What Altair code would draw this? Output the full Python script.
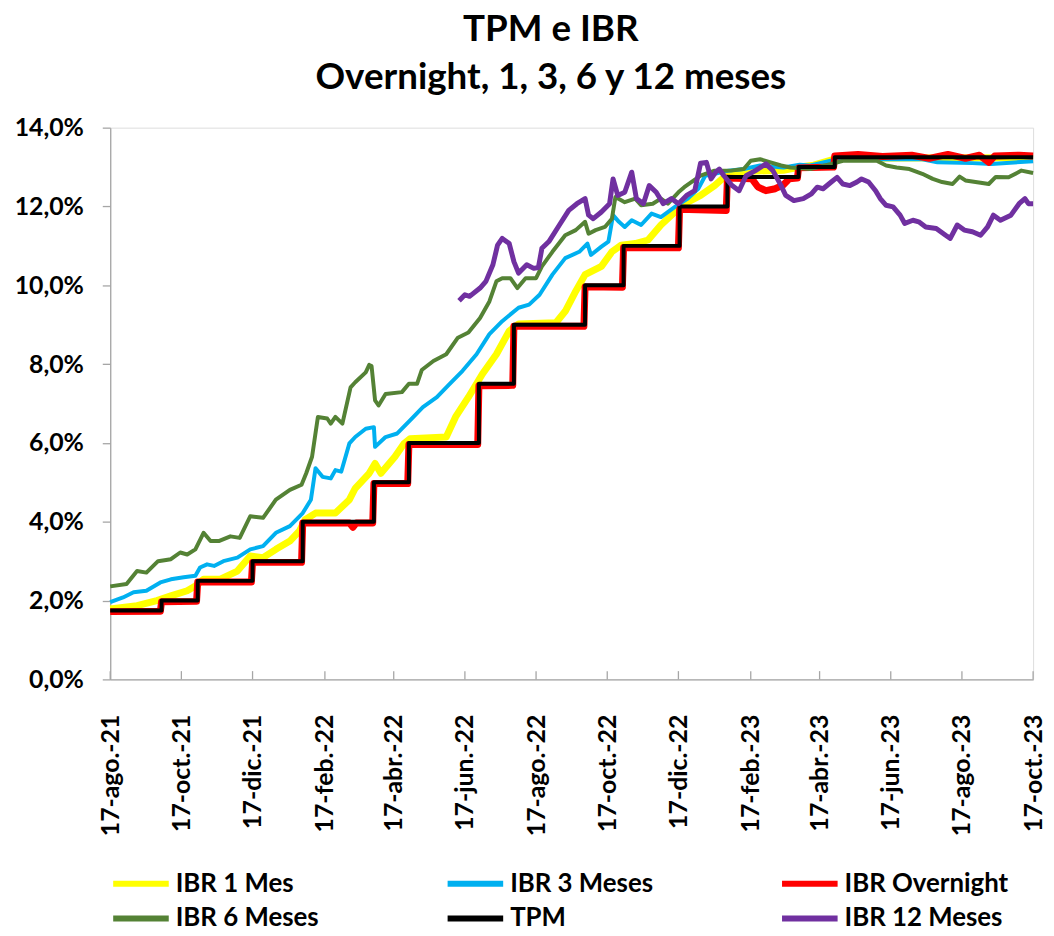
import altair as alt
import pandas as pd

# ---------------- data ----------------
series_names = ["IBR 1 Mes", "IBR 3 Meses", "IBR Overnight", "IBR 6 Meses", "TPM", "IBR 12 Meses"]
series_colors = ["#FFFF00", "#00B0F0", "#FF0000", "#548235", "#000000", "#7030A0"]
series_widths = [7, 4, 7, 4, 4, 5]

ibr_1m = [
    ["2021-08-17", 1.79], ["2021-09-09", 1.87], ["2021-09-26", 2.00], ["2021-10-08", 2.12],
    ["2021-10-22", 2.25], ["2021-10-29", 2.37], ["2021-11-05", 2.54], ["2021-11-19", 2.54],
    ["2021-12-04", 2.75], ["2021-12-15", 3.13], ["2021-12-26", 3.09], ["2022-01-06", 3.30],
    ["2022-01-18", 3.51], ["2022-01-26", 3.76], ["2022-01-31", 4.05], ["2022-02-09", 4.22],
    ["2022-02-26", 4.22], ["2022-03-10", 4.56], ["2022-03-15", 4.85], ["2022-03-27", 5.23],
    ["2022-04-01", 5.48], ["2022-04-06", 5.23], ["2022-04-18", 5.65], ["2022-04-26", 5.99],
    ["2022-05-01", 6.11], ["2022-06-01", 6.15], ["2022-06-09", 6.66], ["2022-06-20", 7.16],
    ["2022-07-02", 7.75], ["2022-07-14", 8.25], ["2022-07-25", 8.84], ["2022-08-02", 9.02],
    ["2022-09-03", 9.05], ["2022-09-11", 9.34], ["2022-09-20", 9.85], ["2022-09-28", 10.27],
    ["2022-10-12", 10.48], ["2022-10-21", 10.85], ["2022-10-29", 11.02], ["2022-11-10", 11.06],
    ["2022-11-21", 11.15], ["2022-12-02", 11.53], ["2022-12-14", 11.86], ["2022-12-25", 12.11],
    ["2023-01-05", 12.28], ["2023-01-17", 12.53], ["2023-01-25", 12.74], ["2023-02-03", 12.88],
    ["2023-03-17", 12.92], ["2023-03-31", 13.00], ["2023-04-12", 13.05], ["2023-05-02", 13.22],
    ["2023-07-01", 13.23], ["2023-10-17", 13.24],
]

ibr_3m = [
    ["2021-08-17", 1.96], ["2021-08-28", 2.08], ["2021-09-06", 2.21], ["2021-09-17", 2.25],
    ["2021-09-29", 2.46], ["2021-10-08", 2.54], ["2021-10-19", 2.59], ["2021-10-29", 2.63],
    ["2021-11-02", 2.84], ["2021-11-08", 2.92], ["2021-11-14", 2.88], ["2021-11-22", 3.00],
    ["2021-12-04", 3.09], ["2021-12-15", 3.30], ["2021-12-26", 3.38], ["2022-01-06", 3.72],
    ["2022-01-18", 3.89], ["2022-01-29", 4.22], ["2022-02-05", 4.56], ["2022-02-09", 5.36],
    ["2022-02-15", 5.14], ["2022-02-22", 5.10], ["2022-02-26", 5.31], ["2022-03-03", 5.27],
    ["2022-03-10", 5.99], ["2022-03-15", 6.15], ["2022-03-24", 6.36], ["2022-03-31", 6.40],
    ["2022-04-01", 5.90], ["2022-04-10", 6.15], ["2022-04-20", 6.24], ["2022-05-01", 6.57],
    ["2022-05-12", 6.91], ["2022-05-24", 7.16], ["2022-06-04", 7.50], ["2022-06-15", 7.83],
    ["2022-06-27", 8.25], ["2022-07-08", 8.76], ["2022-07-19", 9.09], ["2022-08-02", 9.43],
    ["2022-08-11", 9.51], ["2022-08-20", 9.76], ["2022-08-31", 10.27], ["2022-09-11", 10.69],
    ["2022-09-23", 10.85], ["2022-09-30", 11.06], ["2022-10-03", 10.77], ["2022-10-12", 10.98],
    ["2022-10-18", 11.11], ["2022-10-22", 11.78], ["2022-10-27", 11.61], ["2022-11-01", 11.48],
    ["2022-11-07", 11.65], ["2022-11-15", 11.53], ["2022-11-24", 11.82], ["2022-12-02", 11.73],
    ["2022-12-14", 11.99], ["2022-12-25", 12.20], ["2023-01-03", 12.45], ["2023-01-09", 12.78],
    ["2023-01-17", 12.83], ["2023-01-29", 12.91], ["2023-02-11", 12.95], ["2023-02-25", 13.04],
    ["2023-03-17", 12.99], ["2023-03-31", 13.06], ["2023-04-09", 13.04], ["2023-05-02", 13.20],
    ["2023-07-14", 13.20], ["2023-07-27", 13.12], ["2023-08-26", 13.10], ["2023-09-11", 13.08],
    ["2023-10-17", 13.15],
]

ibr_overnight = [
    ["2021-08-17", 1.72], ["2021-09-29", 1.73], ["2021-09-30", 1.97], ["2021-10-30", 1.98],
    ["2021-10-31", 2.47], ["2021-12-16", 2.47], ["2021-12-17", 2.97], ["2022-01-28", 2.97],
    ["2022-01-29", 3.97], ["2022-03-10", 3.97], ["2022-03-13", 3.86], ["2022-03-16", 3.97],
    ["2022-03-30", 3.97], ["2022-03-31", 4.97], ["2022-04-29", 4.97], ["2022-04-30", 5.96],
    ["2022-06-28", 5.96], ["2022-06-29", 7.45], ["2022-07-28", 7.46], ["2022-07-29", 8.96],
    ["2022-09-27", 8.96], ["2022-09-28", 9.96], ["2022-10-30", 9.95], ["2022-10-31", 10.96],
    ["2022-12-17", 10.95], ["2022-12-18", 11.93], ["2023-01-27", 11.90], ["2023-01-28", 12.72],
    ["2023-02-18", 12.70], ["2023-02-23", 12.50], ["2023-03-02", 12.40], ["2023-03-10", 12.45],
    ["2023-03-17", 12.55], ["2023-03-22", 12.70], ["2023-03-29", 12.72], ["2023-03-30", 12.98],
    ["2023-04-29", 13.00], ["2023-04-30", 13.28], ["2023-05-20", 13.32], ["2023-06-10", 13.27],
    ["2023-07-05", 13.30], ["2023-07-20", 13.22], ["2023-08-05", 13.32], ["2023-08-20", 13.22],
    ["2023-09-01", 13.30], ["2023-09-09", 13.12], ["2023-09-14", 13.28], ["2023-10-05", 13.30],
    ["2023-10-17", 13.28],
]

ibr_6m = [
    ["2021-08-17", 2.36], ["2021-08-31", 2.42], ["2021-09-09", 2.75], ["2021-09-17", 2.71],
    ["2021-09-27", 3.00], ["2021-10-08", 3.05], ["2021-10-16", 3.22], ["2021-10-22", 3.17],
    ["2021-10-29", 3.30], ["2021-11-05", 3.72], ["2021-11-11", 3.51], ["2021-11-18", 3.51],
    ["2021-11-28", 3.63], ["2021-12-06", 3.59], ["2021-12-15", 4.14], ["2021-12-26", 4.10],
    ["2022-01-06", 4.56], ["2022-01-18", 4.81], ["2022-01-28", 4.94], ["2022-02-01", 5.23],
    ["2022-02-06", 5.65], ["2022-02-11", 6.66], ["2022-02-19", 6.62], ["2022-02-22", 6.49],
    ["2022-02-26", 6.66], ["2022-03-04", 6.49], ["2022-03-11", 7.41], ["2022-03-15", 7.54],
    ["2022-03-24", 7.79], ["2022-03-27", 7.98], ["2022-03-29", 7.95], ["2022-04-01", 7.08],
    ["2022-04-04", 6.95], ["2022-04-10", 7.24], ["2022-04-24", 7.29], ["2022-04-30", 7.50],
    ["2022-05-07", 7.50], ["2022-05-11", 7.85], ["2022-05-21", 8.08], ["2022-06-01", 8.25],
    ["2022-06-11", 8.67], ["2022-06-20", 8.80], ["2022-06-30", 9.17], ["2022-07-08", 9.59],
    ["2022-07-14", 10.10], ["2022-07-19", 10.18], ["2022-07-26", 10.18], ["2022-08-01", 9.93],
    ["2022-08-08", 10.18], ["2022-08-17", 10.18], ["2022-08-22", 10.48], ["2022-08-31", 10.85],
    ["2022-09-11", 11.27], ["2022-09-20", 11.40], ["2022-09-28", 11.61], ["2022-10-01", 11.31],
    ["2022-10-07", 11.40], ["2022-10-15", 11.48], ["2022-10-21", 11.69], ["2022-10-24", 12.24],
    ["2022-11-01", 12.11], ["2022-11-10", 12.20], ["2022-11-15", 12.03], ["2022-11-25", 12.07],
    ["2022-12-02", 12.20], ["2022-12-08", 12.07], ["2022-12-17", 12.36], ["2022-12-22", 12.49],
    ["2023-01-05", 12.78], ["2023-01-17", 12.91], ["2023-01-31", 12.91], ["2023-02-11", 12.95],
    ["2023-02-17", 13.16], ["2023-02-25", 13.20], ["2023-03-06", 13.12], ["2023-03-15", 13.04],
    ["2023-03-23", 12.99], ["2023-04-09", 12.95], ["2023-04-26", 13.07], ["2023-05-07", 13.16],
    ["2023-06-05", 13.16], ["2023-06-13", 13.04], ["2023-06-22", 12.99], ["2023-07-03", 12.95],
    ["2023-07-14", 12.83], ["2023-07-23", 12.70], ["2023-07-31", 12.62], ["2023-08-09", 12.57],
    ["2023-08-15", 12.76], ["2023-08-20", 12.66], ["2023-09-02", 12.60], ["2023-09-09", 12.57],
    ["2023-09-15", 12.75], ["2023-09-26", 12.74], ["2023-10-07", 12.91], ["2023-10-17", 12.85],
]

tpm = [
    ["2021-08-17", 1.75], ["2021-09-30", 2.00], ["2021-10-31", 2.50], ["2021-12-17", 3.00],
    ["2022-01-29", 4.00], ["2022-03-31", 5.00], ["2022-04-30", 6.00], ["2022-06-29", 7.50],
    ["2022-07-29", 9.00], ["2022-09-28", 10.00], ["2022-10-31", 11.00], ["2022-12-18", 12.00],
    ["2023-01-28", 12.75], ["2023-03-30", 13.00], ["2023-04-30", 13.25], ["2023-10-17", 13.25],
]

ibr_12m = [
    ["2022-06-12", 9.61], ["2022-06-17", 9.76], ["2022-06-21", 9.72], ["2022-06-30", 9.93],
    ["2022-07-05", 10.10], ["2022-07-11", 10.52], ["2022-07-15", 11.02], ["2022-07-19", 11.19],
    ["2022-07-25", 11.06], ["2022-07-29", 10.60], ["2022-08-02", 10.31], ["2022-08-09", 10.52],
    ["2022-08-15", 10.43], ["2022-08-19", 10.45], ["2022-08-22", 10.94], ["2022-08-28", 11.11],
    ["2022-09-06", 11.53], ["2022-09-14", 11.90], ["2022-09-21", 12.07], ["2022-09-28", 12.20],
    ["2022-10-01", 11.78], ["2022-10-05", 11.69], ["2022-10-12", 11.86], ["2022-10-19", 12.07],
    ["2022-10-22", 12.70], ["2022-10-26", 12.28], ["2022-11-01", 12.36], ["2022-11-07", 12.87],
    ["2022-11-11", 12.20], ["2022-11-17", 12.07], ["2022-11-22", 12.53], ["2022-11-28", 12.36],
    ["2022-12-04", 12.07], ["2022-12-11", 12.20], ["2022-12-17", 12.07], ["2022-12-24", 12.28],
    ["2022-12-31", 12.40], ["2023-01-05", 13.10], ["2023-01-10", 13.12], ["2023-01-14", 12.70],
    ["2023-01-18", 12.87], ["2023-01-21", 12.95], ["2023-01-25", 12.78], ["2023-02-01", 12.53],
    ["2023-02-07", 12.40], ["2023-02-13", 12.78], ["2023-02-21", 12.91], ["2023-03-02", 13.08],
    ["2023-03-08", 12.91], ["2023-03-15", 12.53], ["2023-03-19", 12.28], ["2023-03-26", 12.15],
    ["2023-04-03", 12.20], ["2023-04-10", 12.32], ["2023-04-15", 12.49], ["2023-04-20", 12.45],
    ["2023-04-27", 12.62], ["2023-05-02", 12.74], ["2023-05-07", 12.57], ["2023-05-13", 12.53],
    ["2023-05-19", 12.62], ["2023-05-23", 12.70], ["2023-05-29", 12.62], ["2023-06-04", 12.40],
    ["2023-06-08", 12.20], ["2023-06-13", 12.03], ["2023-06-19", 11.99], ["2023-06-25", 11.78],
    ["2023-06-29", 11.57], ["2023-07-06", 11.65], ["2023-07-11", 11.61], ["2023-07-17", 11.48],
    ["2023-07-26", 11.44], ["2023-08-03", 11.27], ["2023-08-07", 11.19], ["2023-08-13", 11.53],
    ["2023-08-19", 11.40], ["2023-08-26", 11.36], ["2023-09-02", 11.27], ["2023-09-08", 11.48],
    ["2023-09-13", 11.78], ["2023-09-19", 11.65], ["2023-09-28", 11.78], ["2023-10-05", 12.07],
    ["2023-10-10", 12.20], ["2023-10-13", 12.07], ["2023-10-17", 12.07],
]

# x axis tick dates (every two months, day 17)
tick_dates = [
    (2021, 8), (2021, 10), (2021, 12), (2022, 2), (2022, 4), (2022, 6), (2022, 8),
    (2022, 10), (2022, 12), (2023, 2), (2023, 4), (2023, 6), (2023, 8), (2023, 10),
]
y_ticks = [0, 2, 4, 6, 8, 10, 12, 14]
month_abbr = ["ene", "feb", "mar", "abr", "may", "jun", "jul", "ago", "sep", "oct", "nov", "dic"]

# ---------------- build table ----------------
all_series = [ibr_1m, ibr_3m, ibr_overnight, ibr_6m, tpm, ibr_12m]
rows = []
for name, pts in zip(series_names, all_series):
    for d, v in pts:
        rows.append({"fecha": d, "valor": v, "serie": name})
df = pd.DataFrame(rows)

ticks_df = pd.DataFrame({"fecha": [f"{y:04d}-{m:02d}-17" for y, m in tick_dates]})

FONT = "Lato"
GRAY = "#A6A6A6"

x_values = [alt.DateTime(year=y, month=m, date=17, utc=True) for y, m in tick_dates]
months_js = "[" + ",".join(f"'{m}'" for m in month_abbr) + "]"
x_axis = alt.Axis(
    values=x_values,
    labelExpr="utcdate(datum.value) + '-' + " + months_js + "[utcmonth(datum.value)] + '.-' + utcFormat(datum.value, '%y')",
    labelAngle=270, ticks=False, labelPadding=35, labelFontSize=25, labelFont=FONT,
    labelFontWeight="bold", labelColor="#000000", labelFlush=False, labelOverlap=False,
    labelBound=False, domainColor=GRAY, domainWidth=1.3, grid=False, title=None,
)
y_axis = alt.Axis(
    values=y_ticks,
    labelExpr="replace(format(datum.value, '.1f'), '.', ',') + '%'",
    tickSize=8, tickColor=GRAY, tickWidth=1.3, domainColor=GRAY, domainWidth=1.3,
    labelPadding=19, labelFontSize=25, labelFont=FONT, labelFontWeight="bold",
    labelColor="#000000", grid=False, title=None,
)
x_scale = alt.Scale(
    type="utc", nice=False,
    domain=[alt.DateTime(year=2021, month=8, date=17, utc=True),
            alt.DateTime(year=2023, month=10, date=17, utc=True)],
)
y_scale = alt.Scale(domain=[0, 14], nice=False)

# legend: a wide line symbol drawn with a custom path (56 px long, 28 px layout box)
legend = alt.Legend(
    title=None, orient="none", legendX=0, legendY=745, direction="horizontal",
    columns=3, columnPadding=97, rowPadding=5, gridAlign="all",
    symbolType="M-2,0L2,0", symbolSize=784, symbolStrokeWidth=6, symbolOffset=14,
    labelFontSize=26, labelFont=FONT, labelFontWeight="bold", labelColor="#000000",
    labelOffset=18, labelLimit=500, padding=0,
)

base = alt.Chart(df).encode(
    x=alt.X("fecha:T", scale=x_scale, axis=x_axis, title=None),
    y=alt.Y("valor:Q", scale=y_scale, axis=y_axis, title=None),
    color=alt.Color("serie:N", scale=alt.Scale(domain=series_names, range=series_colors), legend=legend),
)

layers = []
for name, w in zip(series_names, series_widths):
    interp = "step-after" if name == "TPM" else "linear"
    layers.append(
        base.transform_filter(alt.datum.serie == name).mark_line(
            strokeWidth=w, interpolate=interp, strokeJoin="round", strokeCap="butt"
        )
    )

tick_layer = alt.Chart(ticks_df).mark_rule(color=GRAY, strokeWidth=1.3).encode(
    x=alt.X("fecha:T", scale=x_scale, axis=x_axis, title=None),
    y=alt.datum(0),
    y2=alt.datum(0.21),
)

chart = alt.layer(*layers, tick_layer).properties(
    width=930, height=556,
    autosize=alt.AutoSizeParams(type="none"),
    padding={"left": 103, "top": 117, "right": 13, "bottom": 255},
    title=alt.TitleParams(
        text=["TPM e IBR", "Overnight, 1, 3, 6 y 12 meses"],
        font=FONT, fontSize=37, fontWeight="bold", color="#000000",
        anchor="middle", lineHeight=48, offset=38, baseline="alphabetic", dx=-21, dy=48,
    ),
).configure_view(stroke=None).configure(background="white")

chart.save("out.html", embed_options={"renderer": "svg", "actions": False})
